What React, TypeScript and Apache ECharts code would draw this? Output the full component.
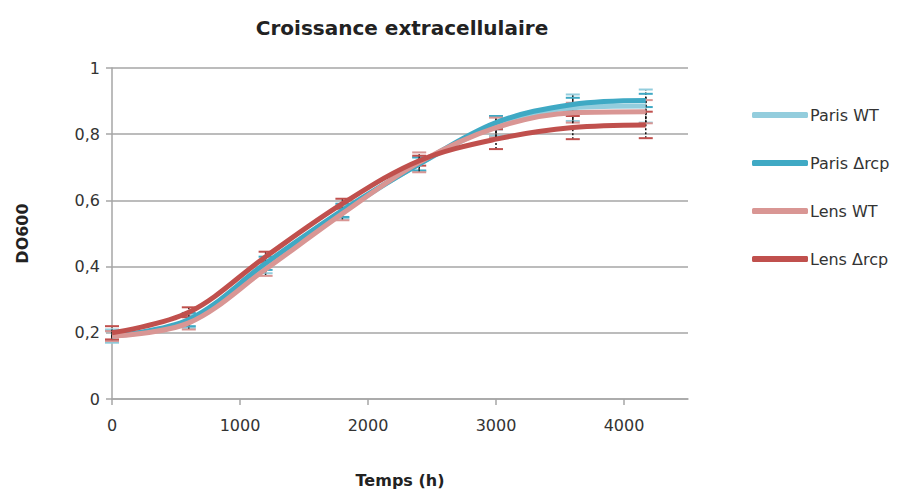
import React, { useEffect, useRef } from "react";
import * as echarts from "echarts";

const times = [0, 600, 1200, 1800, 2400, 3000, 3600, 4170];
const seriesNames = ["Paris WT", "Paris Δrcp", "Lens WT", "Lens Δrcp"];
const colors = ["#93CDDD", "#3FA9C4", "#D99694", "#C0504D"];
const parisWT = [0.19, 0.235, 0.4, 0.565, 0.71, 0.825, 0.88, 0.885];
const parisRcp = [0.19, 0.24, 0.41, 0.57, 0.71, 0.835, 0.89, 0.902];
const lensWT = [0.19, 0.23, 0.392, 0.56, 0.715, 0.82, 0.865, 0.868];
const lensRcp = [0.2, 0.262, 0.43, 0.59, 0.72, 0.785, 0.82, 0.828];
const errParisWT = [0.02, 0.02, 0.02, 0.02, 0.02, 0.03, 0.04, 0.05];
const errParisRcp = [0.015, 0.02, 0.02, 0.02, 0.02, 0.02, 0.02, 0.02];
const errLensWT = [0.015, 0.02, 0.02, 0.02, 0.03, 0.03, 0.03, 0.035];
const errLensRcp = [0.02, 0.015, 0.015, 0.015, 0.015, 0.03, 0.035, 0.04];
const yTicks = ["0", "0,2", "0,4", "0,6", "0,8", "1"];

const values = [parisWT, parisRcp, lensWT, lensRcp];
const errors = [errParisWT, errParisRcp, errLensWT, errLensRcp];

const FONT = "'DejaVu Sans', sans-serif";

export default function App() {
  const ref = useRef<HTMLDivElement>(null);
  useEffect(() => {
    if (!ref.current) return;
    document.body.style.margin = "0";
    const chart = echarts.init(ref.current, undefined, { renderer: "svg" });
    const lineSeries = seriesNames.map((name, i) => ({
      name,
      type: "line",
      data: times.map((t, j) => [t, values[i][j]]),
      smooth: 0.35,
      showSymbol: false,
      symbol: "none",
      lineStyle: { color: colors[i], width: 5 },
      itemStyle: { color: colors[i] },
      z: 3 + i,
    }));
    const errSeries = seriesNames.map((name, i) => ({
      name: name + " err",
      type: "custom",
      z: 2,
      data: times.map((t, j) => [t, values[i][j] - errors[i][j], values[i][j] + errors[i][j]]),
      renderItem: (params: any, api: any) => {
        const x = api.value(0);
        const lo = api.coord([x, api.value(1)]);
        const hi = api.coord([x, api.value(2)]);
        const hw = 7;
        return {
          type: "group",
          children: [
            {
              type: "line",
              shape: { x1: lo[0], y1: lo[1], x2: hi[0], y2: hi[1] },
              style: { stroke: "#111", lineWidth: 1.5, lineDash: [2, 2] },
            },
            {
              type: "line",
              shape: { x1: lo[0] - hw, y1: lo[1], x2: lo[0] + hw, y2: lo[1] },
              style: { stroke: colors[i], lineWidth: 2 },
            },
            {
              type: "line",
              shape: { x1: hi[0] - hw, y1: hi[1], x2: hi[0] + hw, y2: hi[1] },
              style: { stroke: colors[i], lineWidth: 2 },
            },
          ],
        };
      },
    }));
    chart.setOption({
      animation: false,
      backgroundColor: "#fff",
      textStyle: { fontFamily: FONT },
      title: {
        text: "Croissance extracellulaire",
        left: 397,
        textAlign: "center",
        top: 13,
        textStyle: { fontFamily: FONT, fontSize: 20, fontWeight: "bold", color: "#222" },
      },
      legend: {
        orient: "vertical",
        left: 747,
        top: 102,
        itemGap: 32,
        itemWidth: 56,
        itemHeight: 6,
        icon: "roundRect",
        data: seriesNames,
        textStyle: { fontFamily: FONT, fontSize: 16, color: "#333", padding: [0, 0, 0, -3] },
      },
      grid: { left: 112, right: 223, top: 68, bottom: 91, outerBoundsMode: "none", containLabel: false },
      xAxis: {
        type: "value",
        min: 0,
        max: 4500,
        interval: 1000,
        name: "Temps (h)",
        nameLocation: "middle",
        nameGap: 73,
        nameTextStyle: { fontFamily: FONT, fontSize: 16, fontWeight: "bold", color: "#222" },
        axisLine: { show: true, lineStyle: { color: "#A6A6A6", width: 1.5 } },
        axisTick: { show: true, length: 6, lineStyle: { color: "#A6A6A6", width: 1.5 } },
        splitLine: { show: false },
        axisLabel: {
          fontFamily: FONT,
          fontSize: 16,
          color: "#333",
          margin: 18,
          showMaxLabel: false,
          formatter: (v: number) => String(v),
        },
      },
      yAxis: {
        type: "value",
        min: 0,
        max: 1,
        interval: 0.2,
        name: "DO600",
        nameLocation: "middle",
        nameGap: 82,
        nameRotate: 90,
        nameTextStyle: { fontFamily: FONT, fontSize: 16, fontWeight: "bold", color: "#222" },
        axisLine: { show: true, lineStyle: { color: "#A6A6A6", width: 1.5 } },
        axisTick: { show: true, length: 6, lineStyle: { color: "#A6A6A6", width: 1.5 } },
        splitLine: { show: true, lineStyle: { color: "#A6A6A6", width: 1.5 } },
        axisLabel: {
          fontFamily: FONT,
          fontSize: 16,
          color: "#333",
          margin: 12,
          formatter: (v: number) => yTicks[Math.round(v * 5)] ?? "",
        },
      },
      series: [...lineSeries, ...errSeries],
    });
    return () => chart.dispose();
  }, []);
  return <div ref={ref} style={{ width: 911, height: 490 }} />;
}
